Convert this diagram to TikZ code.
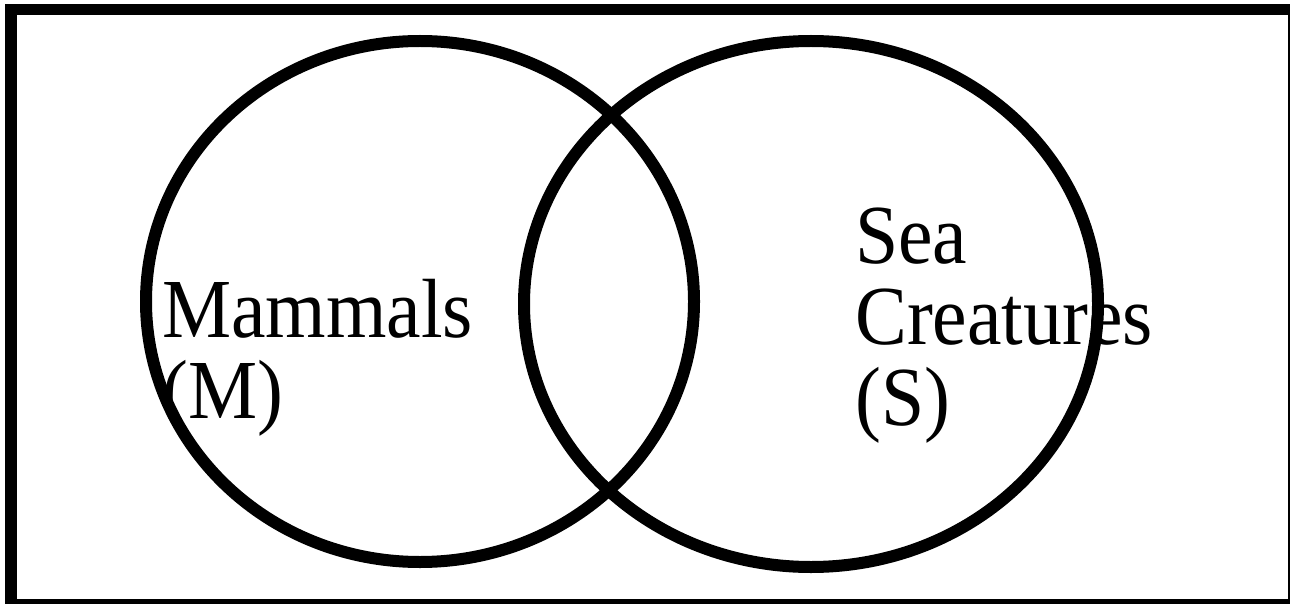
\documentclass[tikz,border=0pt]{standalone}
\usepackage{fontspec}
\setmainfont{Liberation Serif}
\begin{document}
\begin{tikzpicture}[x=1pt,y=-1pt,
  setline/.style={line width=12pt},
  framestyle/.style={line width=11.5pt},
  setlabel/.style={anchor=base west,inner sep=0pt,align=left,xscale=0.925,font=\fontsize{84}{81}\selectfont}]
\useasboundingbox (0,0) rectangle (1290,604);
\clip (0,0) rectangle (1290,604);
\fill[white] (0,0) rectangle (1290,604);
\draw[framestyle] (11,9.5) rectangle (1294,605);
\draw[setline] (420,301.5) ellipse [x radius=274, y radius=260.5];
\draw[setline] (811,304) ellipse [x radius=287, y radius=263];
\node[setlabel] (mlabel) at (162,418) {Mammals\\(M)};
\node[setlabel] (slabel) at (855,425) {Sea\\Creatures\\(S)};
\end{tikzpicture}
\end{document}
